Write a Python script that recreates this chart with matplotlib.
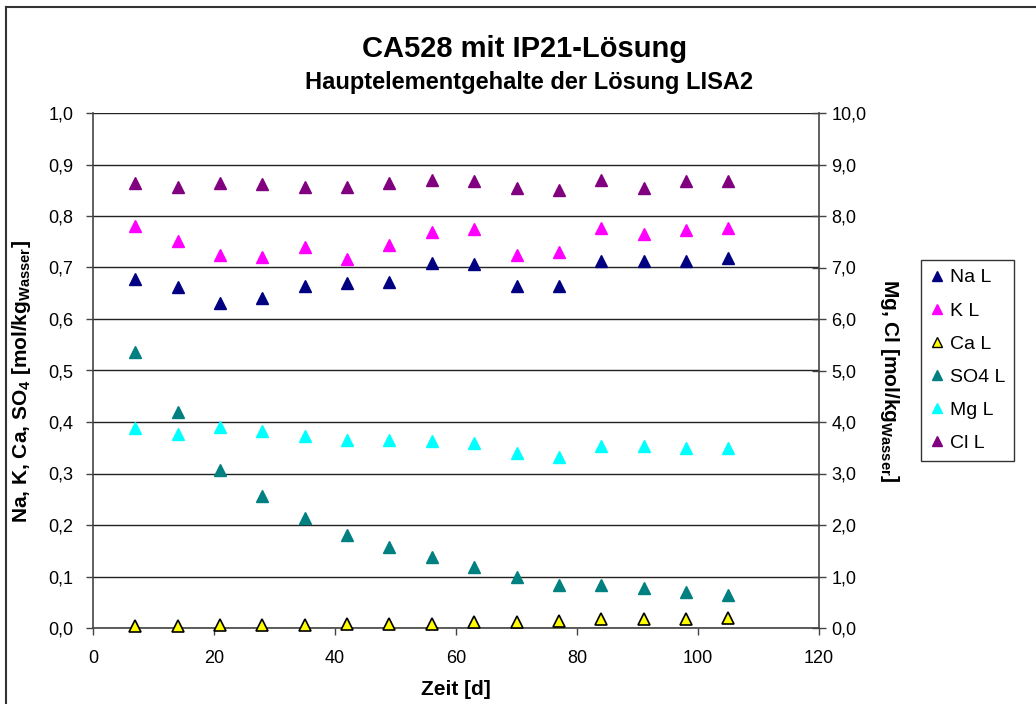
import matplotlib
matplotlib.use("Agg")
import matplotlib.pyplot as plt
from matplotlib.lines import Line2D
from matplotlib.ticker import FuncFormatter, MultipleLocator

plt.rcParams['font.family'] = ['Liberation Sans', 'DejaVu Sans']
plt.rcParams['mathtext.fontset'] = 'custom'
plt.rcParams['mathtext.rm'] = 'Liberation Sans'
plt.rcParams['mathtext.bf'] = 'Liberation Sans:bold'
plt.rcParams['mathtext.it'] = 'Liberation Sans:italic'

# ---- data ----
days = [7, 14, 21, 28, 35, 42, 49, 56, 63, 70, 77, 84, 91, 98, 105]
na = [0.677, 0.663, 0.632, 0.640, 0.664, 0.669, 0.671, 0.709, 0.706, 0.664, 0.664, 0.712, 0.712, 0.712, 0.718]
k = [0.780, 0.751, 0.725, 0.720, 0.740, 0.717, 0.743, 0.769, 0.775, 0.725, 0.731, 0.777, 0.766, 0.772, 0.777]
ca = [0.003, 0.003, 0.005, 0.005, 0.005, 0.008, 0.008, 0.008, 0.011, 0.011, 0.014, 0.017, 0.017, 0.017, 0.020]
so4 = [0.535, 0.420, 0.307, 0.257, 0.213, 0.180, 0.158, 0.138, 0.118, 0.099, 0.083, 0.083, 0.077, 0.070, 0.064]
mg = [3.88, 3.76, 3.91, 3.82, 3.73, 3.65, 3.65, 3.63, 3.59, 3.39, 3.33, 3.53, 3.53, 3.50, 3.50]
cl = [8.64, 8.56, 8.64, 8.62, 8.56, 8.56, 8.64, 8.70, 8.67, 8.54, 8.50, 8.70, 8.54, 8.67, 8.67]
labels = ["Na L", "K L", "Ca L", "SO4 L", "Mg L", "Cl L"]

W, H = 1036, 704
fig = plt.figure(figsize=(W / 100, H / 100), dpi=100)
ax = fig.add_axes([93 / W, 1 - 628 / H, (819 - 93) / W, (628 - 113) / H])
ax2 = ax.twinx()

ms = 8
ax.plot(days, na, ls='none', marker='^', ms=ms, color='#000080', mec='#000080', zorder=3)
ax.plot(days, k, ls='none', marker='^', ms=ms, color='#FF00FF', mec='#FF00FF', zorder=3)
ax.plot(days, ca, ls='none', marker='^', ms=ms, color='#FFFF00', mec='black', mew=1.2, zorder=3, clip_on=False)
ax.plot(days, so4, ls='none', marker='^', ms=ms, color='#008080', mec='#008080', zorder=3)
ax2.plot(days, mg, ls='none', marker='^', ms=ms, color='#00FFFF', mec='#00FFFF', zorder=3)
ax2.plot(days, cl, ls='none', marker='^', ms=ms, color='#800080', mec='#800080', zorder=3)

ax.set_xlim(0, 120)
ax.set_ylim(0, 1.0)
ax2.set_ylim(0, 10)
ax.xaxis.set_major_locator(MultipleLocator(20))
ax.yaxis.set_major_locator(MultipleLocator(0.1))
ax2.yaxis.set_major_locator(MultipleLocator(1))
ax.yaxis.set_major_formatter(FuncFormatter(lambda v, p: f"{v:.1f}".replace('.', ',')))
ax2.yaxis.set_major_formatter(FuncFormatter(lambda v, p: f"{v:.1f}".replace('.', ',')))

ax.grid(axis='y', color='#222222', lw=1.0)
ax.set_axisbelow(True)
for a in (ax, ax2):
    a.spines['top'].set_visible(False)
    for s in a.spines.values():
        s.set_color('#444444')
        s.set_linewidth(1.2)
ax.spines['right'].set_visible(False)
ax2.spines['left'].set_visible(False)
ax2.spines['bottom'].set_visible(False)

ax.tick_params(axis='both', labelsize=13, direction='out', length=5, color='#444444', width=1.0)
ax.tick_params(axis='y', pad=9)
ax.tick_params(axis='x', pad=11)
ax2.tick_params(axis='y', labelsize=13, direction='inout', length=10, color='#444444', width=1.0, pad=4)

ax.set_xlabel("Zeit [d]", fontsize=15, fontweight='bold', labelpad=9)
fig.text(22 / W, 1 - 382 / H, r"Na, K, Ca, SO$_\mathbf{4}$ [mol/kg$_{\mathbf{Wasser}}$]",
         rotation=90, ha='center', va='center', fontsize=15, fontweight='bold')
fig.text(890 / W, 1 - 381 / H, r"Mg, Cl [mol/kg$_{\mathbf{Wasser}}$]",
         rotation=270, ha='center', va='center', fontsize=15, fontweight='bold')

fig.text(525 / W, 1 - 49 / H, "CA528 mit IP21-Lösung", ha='center', va='center',
         fontsize=21, fontweight='bold')
fig.text(529 / W, 1 - 83 / H, "Hauptelementgehalte der Lösung LISA2", ha='center', va='center',
         fontsize=17, fontweight='bold')

# legend
colors = ['#000080', '#FF00FF', '#FFFF00', '#008080', '#00FFFF', '#800080']
edges = ['#000080', '#FF00FF', 'black', '#008080', '#00FFFF', '#800080']
handles = [Line2D([], [], ls='none', marker='^', ms=7.5, color=c, mec=e, mew=1.0)
           for c, e in zip(colors, edges)]
leg = fig.legend(handles, labels, loc='upper left', bbox_to_anchor=(921 / W, 1 - 260 / H),
                 fontsize=14, frameon=True, fancybox=False, handlelength=0.7, handletextpad=0.35,
                 labelspacing=0.8, borderpad=0.45, borderaxespad=0)
leg.get_frame().set_edgecolor('black')
leg.get_frame().set_linewidth(1.0)

# outer border
fig.add_artist(Line2D([6 / W, 6 / W], [0, 1 - 7 / H], color='#333333', lw=1.5, transform=fig.transFigure))
fig.add_artist(Line2D([6 / W, 1], [1 - 7 / H, 1 - 7 / H], color='#333333', lw=1.5, transform=fig.transFigure))

fig.savefig("out.png", dpi=100)
